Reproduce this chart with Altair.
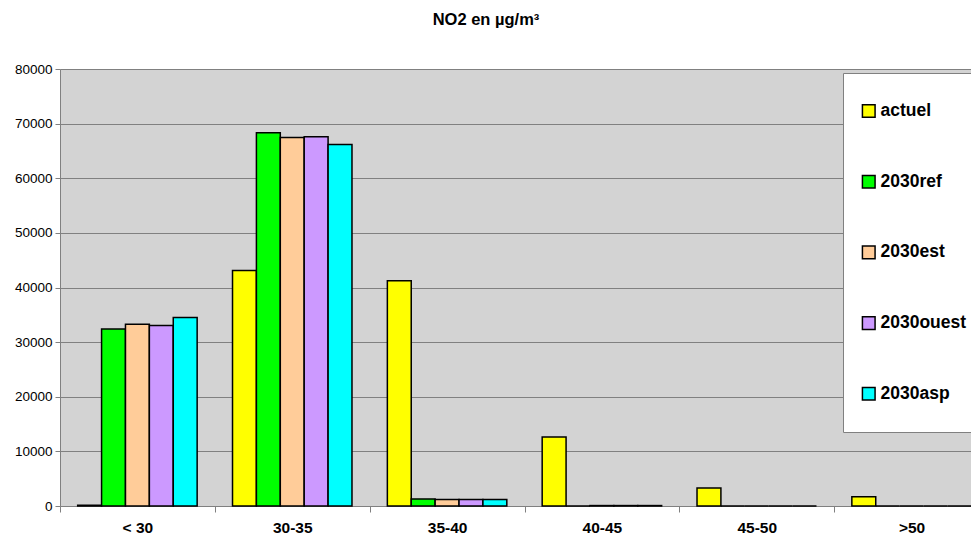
import altair as alt
import pandas as pd

categories = ["< 30", "30-35", "35-40", "40-45", "45-50", ">50"]
series = ["actuel", "2030ref", "2030est", "2030ouest", "2030asp"]
colors = ["#FFFF00", "#00FF00", "#FFCC99", "#CC99FF", "#00FFFF"]

actuel = [150, 43100, 41250, 12650, 3300, 1700]
ref2030 = [32400, 68350, 1300, 0, 0, 0]
est2030 = [33250, 67450, 1200, 80, 0, 0]
ouest2030 = [33050, 67600, 1200, 80, 0, 0]
asp2030 = [34500, 66200, 1200, 80, 0, 0]

values_by_series = [actuel, ref2030, est2030, ouest2030, asp2030]
rows = []
for s, vals in zip(series, values_by_series):
    for c, v in zip(categories, vals):
        rows.append({"classe": c, "scenario": s, "valeur": v})
df = pd.DataFrame(rows)

FONT = "Liberation Sans"
GRAY = "#808080"

chart = alt.Chart(df).mark_bar(stroke="black", strokeWidth=1.5).encode(
    x=alt.X(
        "classe:N",
        sort=categories,
        scale=alt.Scale(range=[0, 929], paddingInner=0, paddingOuter=0),
        axis=alt.Axis(
            title=None, labelAngle=0, labelFontWeight="bold", labelFontSize=15.5,
            labelColor="black", tickBand="extent", tickSize=6, tickColor=GRAY,
            domainColor=GRAY, labelPadding=8, grid=False,
        ),
    ),
    xOffset=alt.XOffset(
        "scenario:N", sort=series,
        scale=alt.Scale(paddingOuter=0.74, paddingInner=0),
    ),
    y=alt.Y(
        "valeur:Q",
        scale=alt.Scale(domain=[0, 80000], nice=False),
        axis=alt.Axis(
            title=None, values=list(range(0, 80001, 10000)), format="d",
            grid=True, gridColor=GRAY, gridWidth=1, tickColor=GRAY, tickSize=5,
            domainColor=GRAY, labelFontSize=13.5, labelColor="black", labelPadding=3,
        ),
    ),
    color=alt.Color(
        "scenario:N", sort=series,
        scale=alt.Scale(domain=series, range=colors),
        legend=alt.Legend(
            title=None, orient="none", legendX=783, legendY=4,
            fillColor="white", strokeColor=GRAY, padding=17,
            symbolType="square", symbolSize=160, symbolStrokeColor="black",
            symbolStrokeWidth=1.5, labelFontSize=17.5, labelFontWeight="bold",
            labelColor="black", labelOffset=3, rowPadding=28.7, clipHeight=42,
            labelLimit=300,
        ),
    ),
).properties(
    width=911,
    height=437,
    title=alt.TitleParams(
        "NO2 en µg/m³", fontSize=16.5, fontWeight="bold", anchor="middle",
        dx=-29.5, offset=34, color="black",
    ),
    autosize=alt.AutoSizeParams(type="none"),
    padding={"left": 52, "top": 61, "right": 0, "bottom": 32},
).configure(
    font=FONT,
).configure_view(
    fill="#D3D3D3", stroke=None,
)

chart.save("out.html", embed_options={"renderer": "svg", "actions": False})
